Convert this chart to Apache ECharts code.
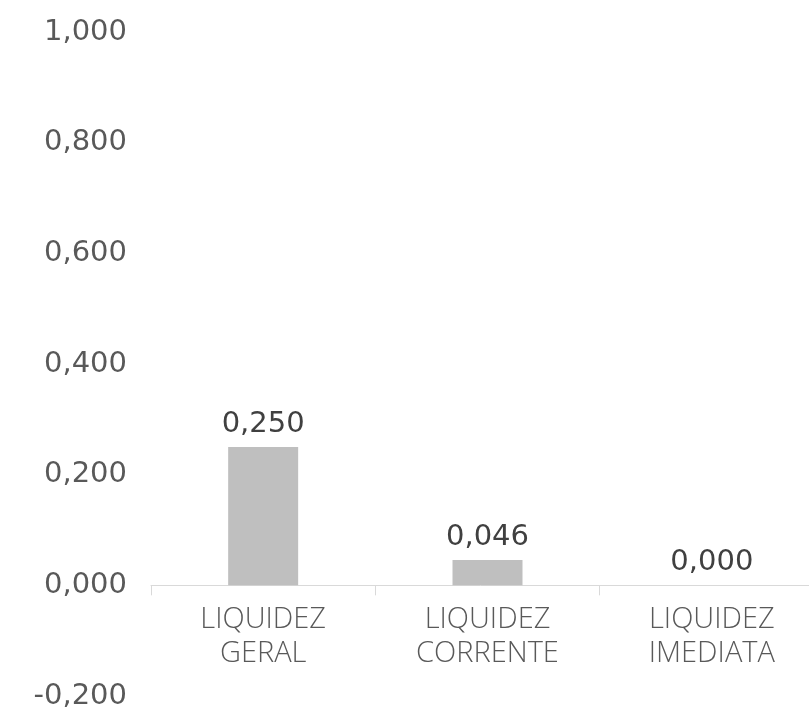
<!DOCTYPE html>
<html>
<head>
<meta charset="utf-8">
<script src="https://cdn.jsdelivr.net/npm/echarts@6/dist/echarts.min.js"></script>
<style>
html,body{margin:0;padding:0;background:#fff;}
#chart{width:809px;height:712px;}
</style>
</head>
<body>
<div id="chart"></div>
<script>
const categories = ["LIQUIDEZ\nGERAL", "LIQUIDEZ\nCORRENTE", "LIQUIDEZ\nIMEDIATA"];
const values = [0.250, 0.046, 0.000];
const yMin = -0.2, yMax = 1.0, yStep = 0.2;

function fmt(v) { return v.toFixed(3).replace('.', ','); }

const chart = echarts.init(document.getElementById('chart'));
const catLabel = {
  color: '#595959', fontFamily: 'Open Sans', fontSize: 29, fontWeight: 300,
  lineHeight: 34, margin: 17, interval: 0
};
chart.setOption({
  animation: false,
  grid: { left: 151, right: -15, top: 32, bottom: 16, containLabel: false, outerBoundsMode: 'none' },
  xAxis: [{
    type: 'category',
    data: categories,
    axisLine: { show: true, onZero: true, lineStyle: { color: '#D9D9D9', width: 1 } },
    axisTick: { show: true, length: 10, lineStyle: { color: '#D9D9D9' } },
    axisLabel: { show: false }
  }, {
    type: 'category',
    data: categories,
    position: 'bottom',
    offset: 0,
    axisLine: { show: false, onZero: false },
    axisTick: { show: false },
    axisLabel: catLabel
  }],
  yAxis: {
    type: 'value', min: yMin, max: yMax, interval: yStep,
    axisLine: { show: false }, axisTick: { show: false },
    splitLine: { show: false },
    axisLabel: {
      color: '#595959', fontFamily: 'DejaVu Sans', fontSize: 29, margin: 24,
      formatter: function (v) { return fmt(v); }
    }
  },
  series: [{
    type: 'bar', data: values, barWidth: 70, xAxisIndex: 0,
    itemStyle: { color: '#BFBFBF' },
    label: {
      show: true, position: 'top', distance: 8,
      color: '#404040', fontFamily: 'DejaVu Sans', fontSize: 29,
      formatter: function (p) { return fmt(p.value); }
    }
  }]
});
// move the label axis up to the zero line
const pZero = chart.convertToPixel({ yAxisIndex: 0 }, 0);
const pMin = chart.convertToPixel({ yAxisIndex: 0 }, yMin);
chart.setOption({ xAxis: [{}, { offset: -(pMin - pZero) }] });
</script>
</body>
</html>
